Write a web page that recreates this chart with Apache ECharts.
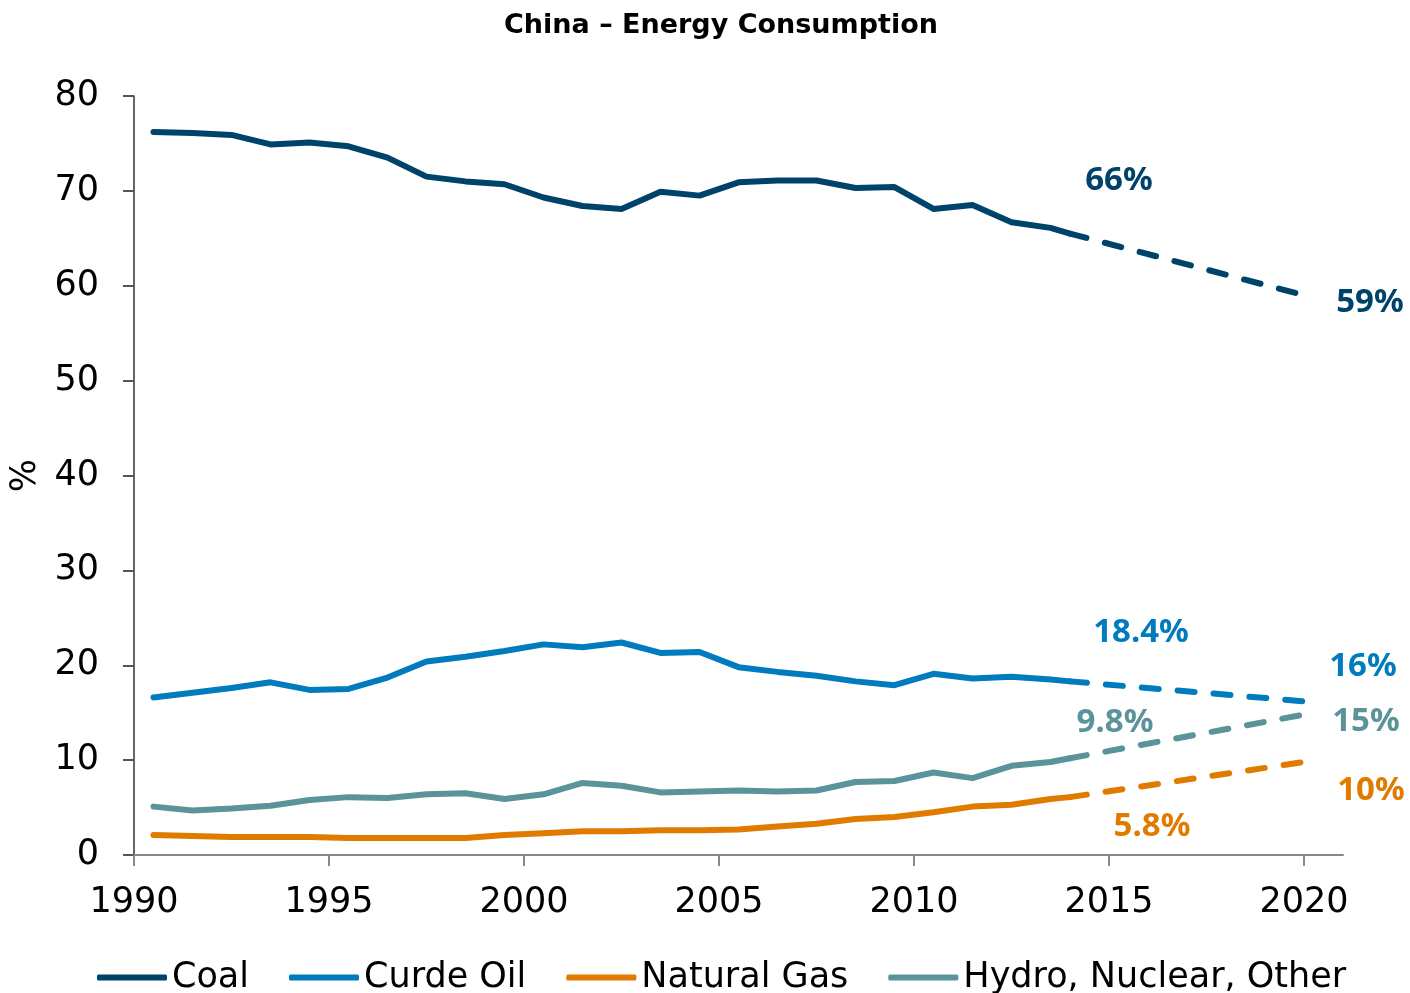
<!DOCTYPE html>
<html>
<head>
<meta charset="utf-8">
<script src="https://cdn.jsdelivr.net/npm/echarts@6/dist/echarts.min.js"></script>
<style>
    html, body {margin: 0; padding: 0; background: #fff;}
    #chart {width: 1410px; height: 993px;}
</style>
</head>
<body>
<div id="chart"></div>
<script>
// yearly values, plotted at mid-year (1990.5 ... 2013.5)
var years = [1990, 1991, 1992, 1993, 1994, 1995, 1996, 1997, 1998, 1999, 2000, 2001,
    2002, 2003, 2004, 2005, 2006, 2007, 2008, 2009, 2010, 2011, 2012, 2013];
var coal = [76.2, 76.1, 75.9, 74.9, 75.1, 74.7, 73.5, 71.5, 71.0, 70.7, 69.3, 68.4,
    68.1, 69.9, 69.5, 70.9, 71.1, 71.1, 70.3, 70.4, 68.1, 68.5, 66.7, 66.1];
var oil = [16.6, 17.1, 17.6, 18.2, 17.4, 17.5, 18.7, 20.4, 20.9, 21.5, 22.2, 21.9,
    22.4, 21.3, 21.4, 19.8, 19.3, 18.9, 18.3, 17.9, 19.1, 18.6, 18.8, 18.5];
var gas = [2.1, 2.0, 1.9, 1.9, 1.9, 1.8, 1.8, 1.8, 1.8, 2.1, 2.3, 2.5,
    2.5, 2.6, 2.6, 2.7, 3.0, 3.3, 3.8, 4.0, 4.5, 5.1, 5.3, 5.9];
var hydro = [5.1, 4.7, 4.9, 5.2, 5.8, 6.1, 6.0, 6.4, 6.5, 5.9, 6.4, 7.6,
    7.3, 6.6, 6.7, 6.8, 6.7, 6.8, 7.7, 7.8, 8.7, 8.1, 9.4, 9.8];

// 2014 actual and 2020 projection
var forecastYears = [2014, 2020];
var coalFc = [65.5, 59];
var oilFc = [18.3, 16.2];
var gasFc = [6.1, 9.8];
var hydroFc = [10.2, 14.8];

var coalLabels = ['66%', '59%'];
var oilLabels = ['18.4%', '16%'];
var gasLabels = ['5.8%', '10%'];
var hydroLabels = ['9.8%', '15%'];

var xTicks = [1990, 1995, 2000, 2005, 2010, 2015, 2020];

var colors = {
    coal: '#00436A',
    oil: '#007BBD',
    gas: '#E07B00',
    hydro: '#5A9399'
};

function solid(values, last) {
    var d = years.map(function (y, i) { return [y + 0.5, values[i]]; });
    d.push([forecastYears[0], last]);
    return d;
}

function dashed(values, labels, offsets, color) {
    return values.map(function (v, i) {
        return {
            value: [forecastYears[i], v],
            label: {
                show: true,
                position: 'inside',
                offset: offsets[i],
                formatter: labels[i],
                color: color,
                fontFamily: 'Noto Sans',
                fontWeight: 'bold',
                fontSize: 33
            }
        };
    });
}

var myChart = echarts.init(document.getElementById('chart'));

function lineSeries(name, data, color, isDash) {
    return {
        name: name,
        type: 'line',
        data: data,
        symbol: 'circle',
        symbolSize: 0,
        showSymbol: isDash,
        silent: true,
        animation: false,
        color: color,
        lineStyle: {
            color: color,
            width: 6,
            cap: 'round',
            join: 'round',
            type: isDash ? [17, 19] : 'solid'
        },
        z: isDash ? 2 : 3
    };
}

myChart.setOption({
    backgroundColor: '#fff',
    animation: false,
    title: {
        text: 'China – Energy Consumption',
        left: 499,
        top: 7,
        textStyle: {
            fontFamily: 'DejaVu Sans',
            fontWeight: 'bold',
            fontSize: 27,
            color: '#000'
        }
    },
    grid: {
        left: 134,
        right: 67,
        top: 96,
        bottom: 138
    },
    legend: {
        top: 955,
        left: 92,
        itemGap: 40,
        itemWidth: 70,
        itemHeight: 6,
        icon: 'roundRect',
        textStyle: {
            fontFamily: 'DejaVu Sans',
            fontSize: 35,
            color: '#000'
        },
        data: ['Coal', 'Curde Oil', 'Natural Gas', 'Hydro, Nuclear, Other']
    },
    xAxis: {
        type: 'value',
        min: 1990,
        max: 2021,
        splitLine: {show: false},
        axisLine: {onZero: false, lineStyle: {color: '#888', width: 2}},
        axisTick: {
            show: true,
            length: 11,
            customValues: xTicks,
            lineStyle: {color: '#888', width: 2}
        },
        axisLabel: {
            customValues: xTicks,
            formatter: function (v) { return String(v); },
            margin: 30,
            fontFamily: 'DejaVu Sans',
            fontSize: 35,
            color: '#000'
        }
    },
    yAxis: {
        type: 'value',
        min: 0,
        max: 80,
        interval: 10,
        name: '%',
        nameLocation: 'middle',
        nameGap: 88,
        nameTextStyle: {
            fontFamily: 'DejaVu Sans',
            fontSize: 35,
            color: '#000'
        },
        splitLine: {show: false},
        axisLine: {show: true, lineStyle: {color: '#333', width: 1.5}},
        axisTick: {show: true, length: 11, lineStyle: {color: '#555', width: 2}},
        axisLabel: {
            margin: 35,
            fontFamily: 'DejaVu Sans',
            fontSize: 35,
            color: '#000'
        }
    },
    series: [
        lineSeries('Coal', solid(coal, coalFc[0]), colors.coal, false),
        lineSeries('Curde Oil', solid(oil, oilFc[0]), colors.oil, false),
        lineSeries('Natural Gas', solid(gas, gasFc[0]), colors.gas, false),
        lineSeries('Hydro, Nuclear, Other', solid(hydro, hydroFc[0]), colors.hydro, false),
        lineSeries('Coal', dashed(coalFc, coalLabels, [[49, -53], [66, 7]], colors.coal), colors.coal, true),
        lineSeries('Curde Oil', dashed(oilFc, oilLabels, [[71, -49], [59, -35]], colors.oil), colors.oil, true),
        lineSeries('Natural Gas', dashed(gasFc, gasLabels, [[82, 29], [67, 29]], colors.gas), colors.gas, true),
        lineSeries('Hydro, Nuclear, Other', dashed(hydroFc, hydroLabels, [[45, -36], [62, 7]], colors.hydro), colors.hydro, true)
    ]
});
</script>
</body>
</html>
